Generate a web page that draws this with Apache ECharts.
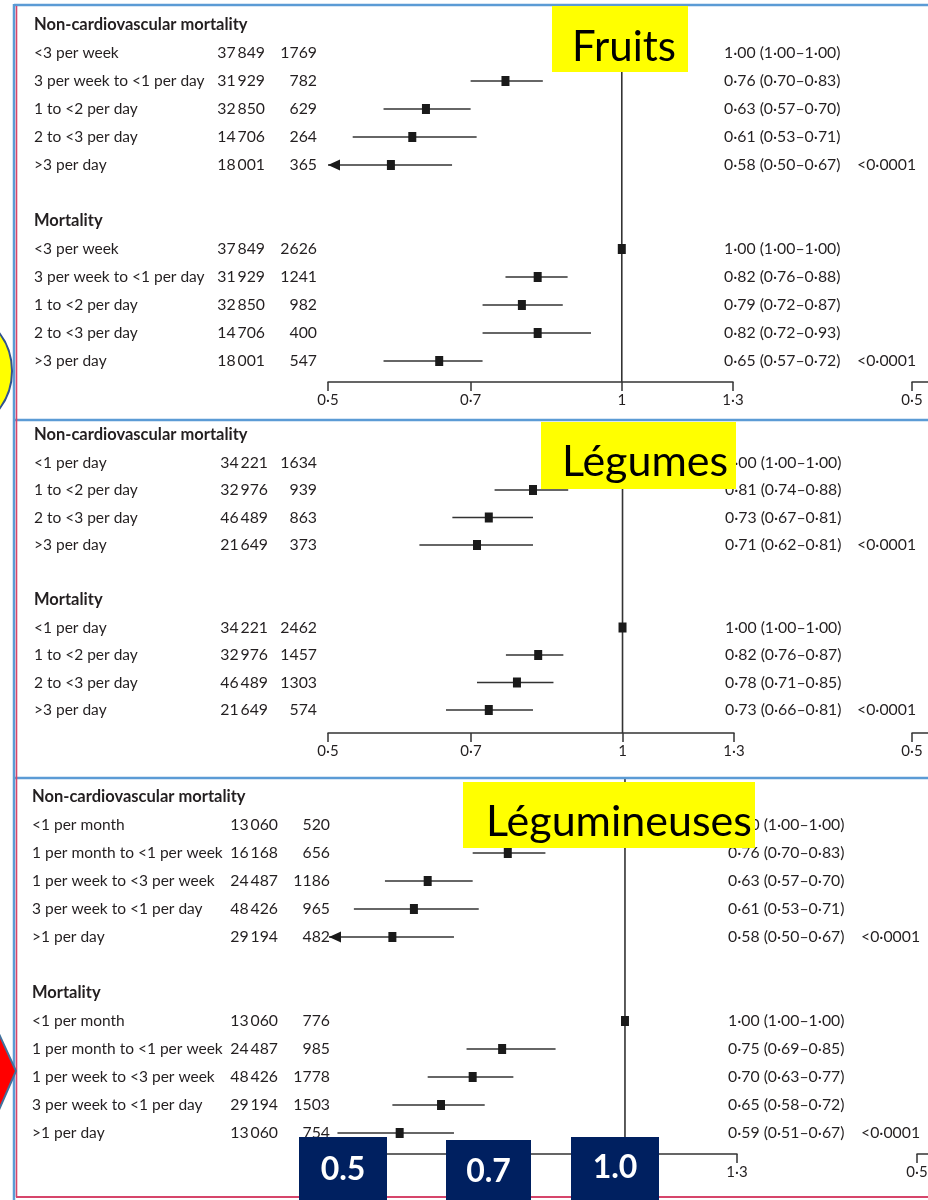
<!DOCTYPE html>
<html><head><meta charset="utf-8">
<script src="https://cdn.jsdelivr.net/npm/echarts@6/dist/echarts.min.js"></script>
<style>html,body{margin:0;padding:0;background:#fff}#c{width:928px;height:1200px}</style>
</head><body><div id="c"></div>
<script>
// ---------------- DATA ----------------
const sectionTitles = ['Non-cardiovascular mortality', 'Mortality'];
const panelTitles = ['Fruits', 'Légumes', 'Légumineuses'];
const axisTicks = [0.5, 0.7, 1, 1.3];
const highlightTicks = ['0.5', '0.7', '1.0'];
const pTrend = '<0·0001';

// Fruits
const fruitLevels = ['<3 per week', '3 per week to <1 per day', '1 to <2 per day', '2 to <3 per day', '>3 per day'];
const fruitNonCvN = [37849, 31929, 32850, 14706, 18001];
const fruitNonCvEvents = [1769, 782, 629, 264, 365];
const fruitNonCvHR = [1.00, 0.76, 0.63, 0.61, 0.58];
const fruitNonCvLo = [1.00, 0.70, 0.57, 0.53, 0.50];
const fruitNonCvHi = [1.00, 0.83, 0.70, 0.71, 0.67];
const fruitMortN = [37849, 31929, 32850, 14706, 18001];
const fruitMortEvents = [2626, 1241, 982, 400, 547];
const fruitMortHR = [1.00, 0.82, 0.79, 0.82, 0.65];
const fruitMortLo = [1.00, 0.76, 0.72, 0.72, 0.57];
const fruitMortHi = [1.00, 0.88, 0.87, 0.93, 0.72];

// Vegetables
const vegLevels = ['<1 per day', '1 to <2 per day', '2 to <3 per day', '>3 per day'];
const vegNonCvN = [34221, 32976, 46489, 21649];
const vegNonCvEvents = [1634, 939, 863, 373];
const vegNonCvHR = [1.00, 0.81, 0.73, 0.71];
const vegNonCvLo = [1.00, 0.74, 0.67, 0.62];
const vegNonCvHi = [1.00, 0.88, 0.81, 0.81];
const vegMortN = [34221, 32976, 46489, 21649];
const vegMortEvents = [2462, 1457, 1303, 574];
const vegMortHR = [1.00, 0.82, 0.78, 0.73];
const vegMortLo = [1.00, 0.76, 0.71, 0.66];
const vegMortHi = [1.00, 0.87, 0.85, 0.81];

// Legumes
const legLevels = ['<1 per month', '1 per month to <1 per week', '1 per week to <3 per week', '3 per week to <1 per day', '>1 per day'];
const legNonCvN = [13060, 16168, 24487, 48426, 29194];
const legNonCvEvents = [520, 656, 1186, 965, 482];
const legNonCvHR = [1.00, 0.76, 0.63, 0.61, 0.58];
const legNonCvLo = [1.00, 0.70, 0.57, 0.53, 0.50];
const legNonCvHi = [1.00, 0.83, 0.70, 0.71, 0.67];
const legMortN = [13060, 24487, 48426, 29194, 13060];
const legMortEvents = [776, 985, 1778, 1503, 754];
const legMortHR = [1.00, 0.75, 0.70, 0.65, 0.59];
const legMortLo = [1.00, 0.69, 0.63, 0.58, 0.51];
const legMortHi = [1.00, 0.85, 0.77, 0.72, 0.67];

// ---------------- BUILD ----------------
const sec = (levels, n, ev, hr, lo, hi) => ({ levels, n, ev, hr, lo, hi });
const panels = [
  [sec(fruitLevels, fruitNonCvN, fruitNonCvEvents, fruitNonCvHR, fruitNonCvLo, fruitNonCvHi),
   sec(fruitLevels, fruitMortN, fruitMortEvents, fruitMortHR, fruitMortLo, fruitMortHi)],
  [sec(vegLevels, vegNonCvN, vegNonCvEvents, vegNonCvHR, vegNonCvLo, vegNonCvHi),
   sec(vegLevels, vegMortN, vegMortEvents, vegMortHR, vegMortLo, vegMortHi)],
  [sec(legLevels, legNonCvN, legNonCvEvents, legNonCvHR, legNonCvLo, legNonCvHi),
   sec(legLevels, legMortN, legMortEvents, legMortHR, legMortLo, legMortHi)]
];
function buildRows(sections) {
  const rows = []; let i = 0;
  sections.forEach((s, si) => {
    rows.push({ idx: i++, header: sectionTitles[si] });
    s.levels.forEach((lv, k) => rows.push({
      idx: i++, label: lv, n: s.n[k], ev: s.ev[k], hr: s.hr[k], lo: s.lo[k], hi: s.hi[k],
      p: k === s.levels.length - 1 ? pTrend : ''
    }));
    i++;
  });
  return rows;
}

// layout (pixels)
const LAY = [
  { top: 4,   axisY: 382,  y0: 25,    step: 28,   left: 328, right: 195, labelX: 34, nX: 265, evX: 317, hrX: 724, pX: 857, extraX: 912 },
  { top: 422, axisY: 733,  y0: 435,   step: 27.5, left: 328, right: 194, labelX: 34, nX: 268, evX: 317, hrX: 725, pX: 857, extraX: 912 },
  { top: 778, axisY: 1154, y0: 797,   step: 28,   left: 329, right: 191, labelX: 32, nX: 278, evX: 330, hrX: 728, pX: 861, extraX: 917 }
];

const TXT = '#231f20';
const FONT = 'Lato, "Noto Sans", sans-serif';
const fmtNum = v => { const s = String(v); return s.length > 4 ? s.slice(0, -3) + '\u2009' + s.slice(-3) : s; };
const fmtDec = v => v.toFixed(2).replace('.', '·');
const fmtAxis = v => String(Math.round(v * 100) / 100).replace('.', '·');

function txt(x, y, text, align, font) {
  return { type: 'text', style: { x, y, text, fill: TXT, font, align, verticalAlign: 'middle', textAlign: align, textVerticalAlign: 'middle' } };
}

const grids = [], xAxes = [], yAxes = [], series = [];
function axisCfg(gi) {
  return {
    type: 'log', gridIndex: gi, min: 0.5, max: 1.3, logBase: 10, position: 'bottom',
    axisLine: { show: true, onZero: false, lineStyle: { color: '#333', width: 1.5 } },
    axisTick: { show: true, length: 9, inside: false, lineStyle: { color: '#333', width: 1.5 }, customValues: axisTicks },
    axisLabel: { show: true, margin: 11, color: TXT, fontSize: 15, fontFamily: FONT, customValues: axisTicks, formatter: fmtAxis },
    splitLine: { show: false }, minorTick: { show: false }
  };
}

panels.forEach((sections, pi) => {
  const Ly = LAY[pi];
  const rows = buildRows(sections);
  const height = Ly.axisY - Ly.top;
  const yMin = (Ly.top - Ly.y0) / Ly.step;
  const yMax = (Ly.axisY - Ly.y0) / Ly.step;
  const width = 928 - Ly.left - Ly.right;
  const gMain = grids.length;
  grids.push({ left: Ly.left, top: Ly.top, width, height });
  xAxes.push(axisCfg(gMain));
  yAxes.push({ type: 'value', gridIndex: gMain, inverse: true, min: yMin, max: yMax, show: false });
  const gExtra = grids.length;
  grids.push({ left: Ly.extraX, top: Ly.top, width, height });
  xAxes.push(axisCfg(gExtra));
  yAxes.push({ type: 'value', gridIndex: gExtra, inverse: true, min: yMin, max: yMax, show: false });

  // reference line at HR = 1
  series.push({
    type: 'custom', xAxisIndex: gMain, yAxisIndex: gMain, z: 2, clip: false, silent: true,
    data: [[1, yMin]],
    renderItem(params, api) {
      const a = api.coord([1, yMin]), b = api.coord([1, yMax]);
      return { type: 'line', shape: { x1: a[0], y1: a[1], x2: b[0], y2: b[1] }, style: { stroke: '#333', lineWidth: 1.6 } };
    }
  });

  // CI + squares
  const ciRows = rows.filter(r => r.hr !== undefined);
  series.push({
    type: 'custom', xAxisIndex: gMain, yAxisIndex: gMain, z: 3, clip: false, silent: true,
    data: ciRows.map(r => [r.hr, r.idx]),
    renderItem(params, api) {
      const r = ciRows[params.dataIndex];
      const pm = api.coord([r.hr, r.idx]);
      const pl = api.coord([r.lo, r.idx]);
      const ph = api.coord([r.hi, r.idx]);
      const children = [];
      if (r.hi > r.lo) {
        children.push({ type: 'line', shape: { x1: pl[0], y1: pm[1], x2: ph[0], y2: pm[1] }, style: { stroke: '#333', lineWidth: 1.4 } });
      }
      children.push({ type: 'rect', shape: { x: pm[0] - 4, y: pm[1] - 5, width: 8, height: 10 }, style: { fill: '#1a1a1a' } });
      if (r.lo <= 0.5) {
        const t = pl[0];
        children.push({ type: 'polygon', shape: { points: [[t, pm[1]], [t + 12, pm[1] - 5.5], [t + 12, pm[1] + 5.5]] }, style: { fill: '#1a1a1a' } });
      }
      return { type: 'group', children };
    }
  });

  // table text
  series.push({
    type: 'custom', xAxisIndex: gMain, yAxisIndex: gMain, z: 4, clip: false, silent: true,
    data: rows.map(r => [1, r.idx]),
    renderItem(params, api) {
      const r = rows[params.dataIndex];
      const y = api.coord([1, r.idx])[1];
      if (r.header) return txt(Ly.labelX, y, r.header, 'left', 'bold 16.5px ' + FONT);
      const f = '15.5px ' + FONT;
      const fn = '15.8px ' + FONT;
      const ch = [
        txt(Ly.labelX, y, r.label, 'left', f),
        txt(Ly.nX, y, fmtNum(r.n), 'right', fn),
        txt(Ly.evX, y, fmtNum(r.ev), 'right', fn),
        txt(Ly.hrX, y, fmtDec(r.hr) + ' (' + fmtDec(r.lo) + '–' + fmtDec(r.hi) + ')', 'left', '15.8px ' + FONT)
      ];
      if (r.p) ch.push(txt(Ly.pX, y, r.p, 'left', '15.8px ' + FONT));
      return { type: 'group', children: ch };
    }
  });
});

// ---------------- DECORATIONS ----------------
const BLUE = '#5b9bd5', RED = '#d6456b', NAVY = '#002060';
const graphic = [
  { type: 'line', z: 90, shape: { x1: 14, y1: 5, x2: 928, y2: 5 }, style: { stroke: BLUE, lineWidth: 2.5 } },
  { type: 'line', z: 90, shape: { x1: 14, y1: 420, x2: 928, y2: 420 }, style: { stroke: BLUE, lineWidth: 2.5 } },
  { type: 'line', z: 90, shape: { x1: 14, y1: 778, x2: 928, y2: 778 }, style: { stroke: BLUE, lineWidth: 2.5 } },
  { type: 'line', z: 90, shape: { x1: 14, y1: 4, x2: 14, y2: 1200 }, style: { stroke: BLUE, lineWidth: 2.5 } },
  { type: 'line', z: 91, shape: { x1: 16.5, y1: 6, x2: 16.5, y2: 1197 }, style: { stroke: RED, lineWidth: 1.6 } },
  { type: 'line', z: 91, shape: { x1: 16, y1: 1197, x2: 928, y2: 1197 }, style: { stroke: RED, lineWidth: 2 } },
  { type: 'circle', z: 92, shape: { cx: -51, cy: 371, r: 63 }, style: { fill: '#ffff00', stroke: '#2f528f', lineWidth: 2 } },
  { type: 'polygon', z: 92, shape: { points: [[-12, 1010], [16, 1071], [-12, 1135]] }, style: { fill: '#ff0000', stroke: '#41719c', lineWidth: 2 } },
  // yellow title boxes
  { type: 'rect', z: 95, shape: { x: 552, y: 6, width: 136, height: 66 }, style: { fill: '#ffff00' } },
  { type: 'text', z: 96, style: { x: 624, y: 47, text: panelTitles[0], fill: '#000', font: '42px Lato, sans-serif', align: 'center', verticalAlign: 'middle', textAlign: 'center', textVerticalAlign: 'middle' } },
  { type: 'rect', z: 95, shape: { x: 541, y: 422, width: 195, height: 67 }, style: { fill: '#ffff00' } },
  { type: 'text', z: 96, style: { x: 645, y: 462, text: panelTitles[1], fill: '#000', font: '43px Lato, sans-serif', align: 'center', verticalAlign: 'middle', textAlign: 'center', textVerticalAlign: 'middle' } },
  { type: 'rect', z: 95, shape: { x: 463, y: 782, width: 292, height: 66 }, style: { fill: '#ffff00' } },
  { type: 'text', z: 96, style: { x: 619, y: 822, text: panelTitles[2], fill: '#000', font: '43px Lato, sans-serif', align: 'center', verticalAlign: 'middle', textAlign: 'center', textVerticalAlign: 'middle' } },
  // navy tick highlight boxes
  { type: 'rect', z: 95, shape: { x: 299, y: 1137, width: 88, height: 63 }, style: { fill: NAVY } },
  { type: 'text', z: 96, style: { x: 343, y: 1170, text: highlightTicks[0], fill: '#fff', font: 'bold 32px Lato, sans-serif', align: 'center', verticalAlign: 'middle', textAlign: 'center', textVerticalAlign: 'middle' } },
  { type: 'rect', z: 95, shape: { x: 446, y: 1140, width: 85, height: 60 }, style: { fill: NAVY } },
  { type: 'text', z: 96, style: { x: 488.5, y: 1172, text: highlightTicks[1], fill: '#fff', font: 'bold 32px Lato, sans-serif', align: 'center', verticalAlign: 'middle', textAlign: 'center', textVerticalAlign: 'middle' } },
  { type: 'rect', z: 95, shape: { x: 571, y: 1137, width: 88, height: 63 }, style: { fill: NAVY } },
  { type: 'text', z: 96, style: { x: 615, y: 1168, text: highlightTicks[2], fill: '#fff', font: 'bold 32px Lato, sans-serif', align: 'center', verticalAlign: 'middle', textAlign: 'center', textVerticalAlign: 'middle' } }
];

const chart = echarts.init(document.getElementById('c'), null, { renderer: 'canvas', width: 928, height: 1200 });
chart.setOption({
  backgroundColor: '#fff',
  animation: false,
  grid: grids,
  xAxis: xAxes,
  yAxis: yAxes,
  series,
  graphic: { elements: graphic }
});
</script>
</body></html>
